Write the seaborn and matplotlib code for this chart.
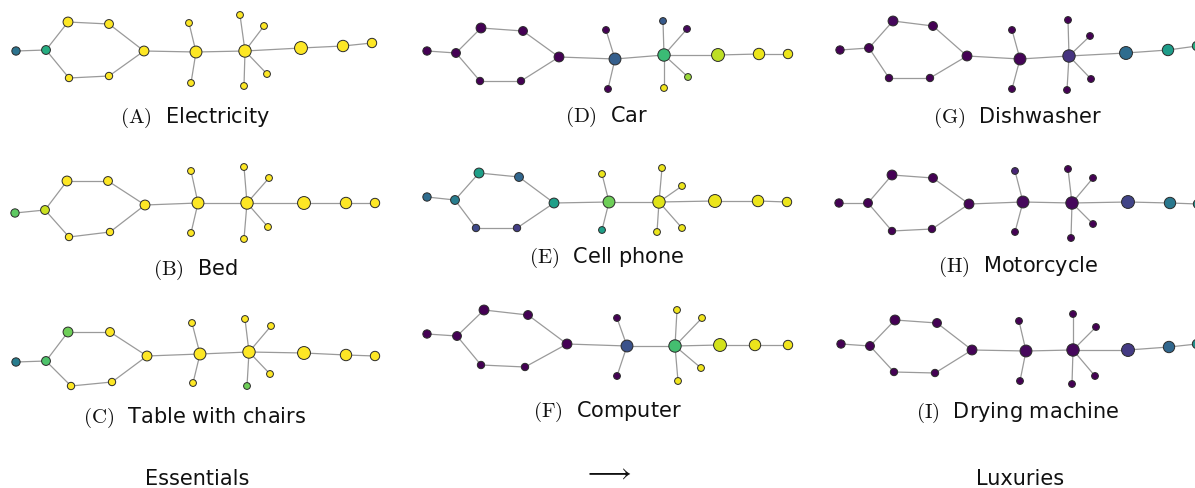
import numpy as np
import pandas as pd
import matplotlib
matplotlib.use("Agg")
import matplotlib.pyplot as plt
import seaborn as sns

# ---------------- data ----------------
# graph topology (same network in every panel)
edges = [(0, 1), (1, 2), (1, 4), (2, 3), (4, 5), (3, 6), (5, 6), (6, 7),
         (7, 8), (7, 9), (7, 10), (10, 11), (10, 12), (10, 13), (10, 14),
         (10, 15), (15, 16), (16, 17)]
# node weight (relative importance, drives marker area)
node_weight = [64, 72, 90, 72, 49, 49, 90, 132, 42, 42, 144, 42, 42, 42, 42, 156, 121, 81]

panel_letters = ["A", "B", "C", "D", "E", "F", "G", "H", "I"]
panel_titles = ["Electricity", "Bed", "Table with chairs",
                "Car", "Cell phone", "Computer",
                "Dishwasher", "Motorcycle", "Drying machine"]

# node layouts per panel (layout units)
layout_x = {
    "A": [16, 46, 68, 109, 69, 109, 144, 196, 189, 191, 245, 240, 264, 267, 244, 301, 343, 372],
    "B": [15, 45, 67, 108, 69, 110, 145, 198, 191, 191, 247, 244, 269, 268, 244, 304, 346, 375],
    "C": [16, 46, 68, 110, 71, 112, 147, 200, 192, 193, 249, 245, 271, 270, 247, 304, 346, 375],
    "D": [27, 56, 81, 123, 80, 121, 159, 215, 206, 208, 264, 263, 287, 288, 264, 318, 359, 388],
    "E": [27, 55, 79, 119, 76, 117, 154, 209, 202, 202, 259, 262, 282, 282, 257, 315, 358, 387],
    "F": [27, 57, 84, 128, 81, 125, 167, 227, 217, 217, 275, 277, 302, 301, 278, 320, 355, 388],
    "G": [40, 69, 93, 133, 89, 130, 167, 220, 212, 212, 269, 268, 290, 291, 267, 326, 368, 397],
    "H": [39, 68, 92, 133, 92, 132, 169, 223, 215, 215, 272, 268, 293, 293, 271, 328, 370, 398],
    "I": [41, 70, 95, 137, 94, 135, 172, 226, 219, 220, 273, 273, 296, 295, 272, 328, 369, 397],
}
layout_y = {
    "A": [52, 51, 23, 25, 79, 77, 52, 53, 24, 84, 52, 16, 27, 75, 87, 49, 47, 44],
    "B": [69, 66, 37, 37, 93, 88, 61, 59, 27, 89, 59, 23, 34, 83, 95, 59, 59, 59],
    "C": [73, 72, 43, 43, 97, 93, 67, 65, 34, 94, 63, 30, 37, 85, 97, 64, 66, 67],
    "D": [52, 54, 29, 32, 82, 82, 58, 60, 31, 90, 56, 22, 30, 78, 89, 56, 55, 55],
    "E": [53, 56, 29, 33, 84, 84, 59, 58, 30, 86, 58, 24, 42, 84, 88, 57, 57, 58],
    "F": [45, 47, 21, 26, 76, 78, 55, 57, 29, 87, 57, 21, 29, 79, 92, 56, 56, 56],
    "G": [51, 49, 22, 27, 79, 79, 57, 60, 31, 90, 57, 21, 37, 80, 91, 54, 51, 47],
    "H": [59, 59, 31, 34, 87, 85, 60, 58, 27, 88, 59, 25, 34, 80, 94, 58, 59, 60],
    "I": [55, 57, 31, 34, 83, 84, 61, 62, 32, 92, 61, 25, 38, 87, 95, 61, 58, 55],
}
# node values (0..1) shown by colour
node_value = {
    "A": [0.38, 0.62, 1, 1, 1, 1, 1, 1, 1, 1, 1, 1, 1, 1, 1, 1, 1, 1],
    "B": [0.75, 0.92, 1, 1, 1, 1, 1, 1, 1, 1, 1, 1, 1, 1, 1, 1, 1, 1],
    "C": [0.42, 0.72, 0.78, 1, 1, 1, 1, 1, 1, 1, 1, 1, 1, 1, 0.78, 1, 1, 1],
    "D": [0, 0, 0, 0, 0, 0, 0, 0.3, 0, 0, 0.68, 0.28, 0.02, 0.85, 0.98, 0.9, 0.97, 0.97],
    "E": [0.35, 0.42, 0.56, 0.33, 0.22, 0.18, 0.56, 0.78, 0.97, 0.56, 0.95, 0.97, 0.97, 0.97, 0.97, 0.97, 0.97, 0.97],
    "F": [0, 0, 0, 0, 0, 0, 0, 0.25, 0, 0, 0.7, 0.98, 0.98, 0.98, 0.98, 0.93, 0.97, 0.98],
    "G": [0, 0, 0.02, 0, 0, 0, 0, 0.01, 0, 0, 0.15, 0, 0, 0, 0, 0.35, 0.55, 0.62],
    "H": [0, 0, 0, 0, 0, 0, 0.01, 0.02, 0.1, 0, 0.02, 0, 0, 0, 0, 0.2, 0.4, 0.5],
    "I": [0, 0, 0, 0, 0, 0, 0.01, 0.02, 0, 0, 0.02, 0, 0, 0, 0, 0.17, 0.33, 0.5],
}
column_labels = ["Essentials", r"$\longrightarrow$", "Luxuries"]

# ---------------- layout ----------------
W, H = 1195, 489
sns.set_theme(style="white")
plt.rcParams["font.family"] = ["DejaVu Sans"]
plt.rcParams["mathtext.fontset"] = "cm"

fig = plt.figure(figsize=(W / 100, H / 100), dpi=100)

col_w, row_h = 400, 145
caption_y = {"A": 118, "B": 125, "C": 128, "D": 117, "E": 113, "F": 122,
             "G": 118, "H": 122, "I": 123}
caption_x = [195, 207, 218]

for i, letter in enumerate(panel_letters):
    c, r = i // 3, i % 3
    left = c * col_w
    width = min(col_w, W - left)
    ax = fig.add_axes([left / W, 1 - (r * row_h + row_h) / H, width / W, row_h / H])

    xs, ys = layout_x[letter], layout_y[letter]
    for a, b in edges:
        ax.plot([xs[a], xs[b]], [ys[a], ys[b]], color="#9a9a9a", lw=0.9,
                zorder=1, solid_capstyle="round")

    df = pd.DataFrame({"x": xs, "y": ys, "value": node_value[letter],
                       "weight": node_weight})
    sns.scatterplot(data=df, x="x", y="y", hue="value", palette="viridis",
                    hue_norm=(0, 1), size="weight", sizes=(24, 86),
                    size_norm=(42, 156), edgecolor="#2a2a2a", linewidth=0.7,
                    legend=False, ax=ax, zorder=3)
    ax.set_xlim(0, width)
    ax.set_ylim(row_h, 0)
    ax.axis("off")

    ax.text(caption_x[c], caption_y[letter],
            r"$(\mathrm{%s})$  %s" % (letter, panel_titles[i]),
            ha="center", va="center", fontsize=15, color="#111111")

label_x = [197, 608, 1020]
label_y = [479, 472, 479]
label_size = [15, 20, 15]
for c, lab in enumerate(column_labels):
    fig.text(label_x[c] / W, 1 - label_y[c] / H, lab, ha="center", va="center",
             fontsize=label_size[c], color="#111111")

fig.savefig("out.png", dpi=100)
